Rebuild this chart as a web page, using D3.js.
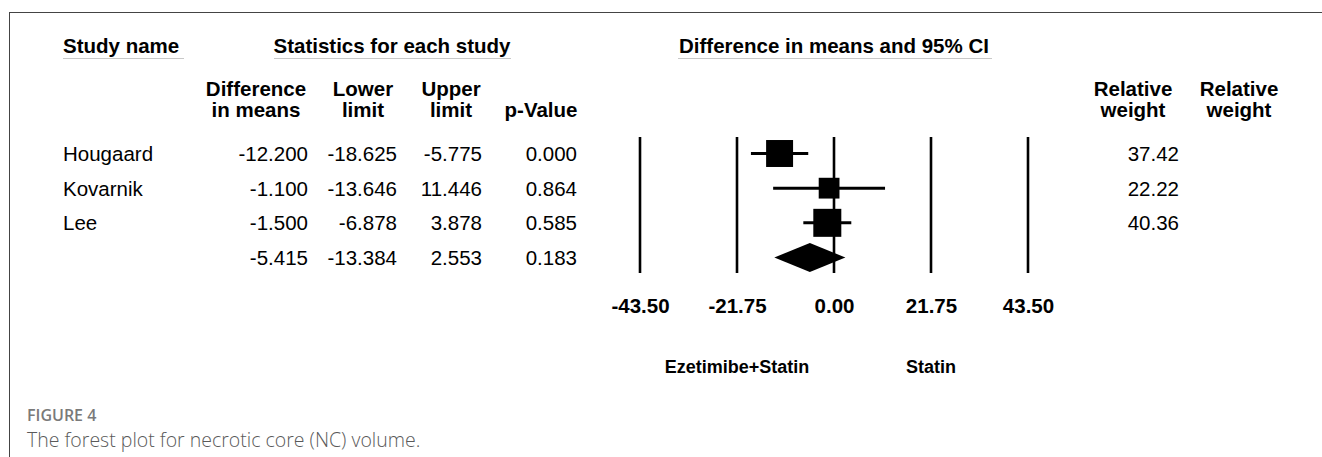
<!DOCTYPE html>
<html>
<head>
<meta charset="utf-8">
<script src="https://cdn.jsdelivr.net/npm/d3@7"></script>
<style>
  body { margin: 0; background: #fff; }
  svg { display: block; }
  .t { font-family: "Liberation Sans", Arial, sans-serif; font-size: 20.5px; fill: #000; }
  .b { font-weight: bold; }
</style>
</head>
<body>
<svg id="chart"></svg>
<script>
// study data
const studies = ["Hougaard", "Kovarnik", "Lee"];
const diffs = [-12.2, -1.1, -1.5];
const lowers = [-18.625, -13.646, -6.878];
const uppers = [-5.775, 11.446, 3.878];
const pvals = [0.000, 0.864, 0.585];
const weights = [37.42, 22.22, 40.36];
// pooled (summary) row
const pooled = { diff: -5.415, lower: -13.384, upper: 2.553, p: 0.183 };
const xTicks = [-43.5, -21.75, 0, 21.75, 43.5];
const groupLabels = ["Ezetimibe+Statin", "Statin"];

const width = 1322, height = 457;
const svg = d3.select("#chart").attr("width", width).attr("height", height);

const loc = d3.formatLocale({ decimal: ".", thousands: ",", grouping: [3], currency: ["", ""], minus: "-" });
const f3 = loc.format(".3f"), f2 = loc.format(".2f");

// x scale of the forest plot
const x = d3.scaleLinear().domain([-43.5, 43.5]).range([640, 1028]);
// rows: 3 studies + pooled
const y = d3.scaleLinear().domain([0, 3]).range([153.5, 257.5]);
const box = d3.scaleSqrt().domain([0, d3.max(weights)]).range([0, 28]);

// frame
svg.append("line").attr("x1", 9).attr("x2", width).attr("y1", 12.5).attr("y2", 12.5)
  .attr("stroke", "#444").attr("stroke-width", 1);
svg.append("line").attr("x1", 9.5).attr("x2", 9.5).attr("y1", 12).attr("y2", height)
  .attr("stroke", "#444").attr("stroke-width", 1);

// top headers with underline
const headers = [
  { text: "Study name", x: 63, anchor: "start", ul: [63, 184] },
  { text: "Statistics for each study", x: 392, anchor: "middle", ul: [274, 511] },
  { text: "Difference in means and 95% CI", x: 834, anchor: "middle", ul: [678, 992] }
];
headers.forEach(h => {
  svg.append("text").attr("class", "t b").attr("x", h.x).attr("y", 53)
    .attr("text-anchor", h.anchor).text(h.text);
  svg.append("line").attr("x1", h.ul[0]).attr("x2", h.ul[1]).attr("y1", 58.5).attr("y2", 58.5)
    .attr("stroke", "#c8c8c8").attr("stroke-width", 1);
});

// column headers
const colHeads = [
  { lines: ["Difference", "in means"], x: 256 },
  { lines: ["Lower", "limit"], x: 363 },
  { lines: ["Upper", "limit"], x: 451 },
  { lines: ["", "p-Value"], x: 541 },
  { lines: ["Relative", "weight"], x: 1133 },
  { lines: ["Relative", "weight"], x: 1239 }
];
colHeads.forEach(c => {
  c.lines.forEach((l, i) => {
    svg.append("text").attr("class", "t b").attr("x", c.x).attr("y", 96 + i * 21)
      .attr("text-anchor", "middle").text(l);
  });
});

// table rows
const rows = studies.map((s, i) => ({ name: s, diff: diffs[i], lower: lowers[i], upper: uppers[i], p: pvals[i], w: weights[i] }));
rows.push({ name: "", diff: pooled.diff, lower: pooled.lower, upper: pooled.upper, p: pooled.p, w: null });

const cols = [
  { key: "diff", x: 308 },
  { key: "lower", x: 397 },
  { key: "upper", x: 482 },
  { key: "p", x: 577 }
];
rows.forEach((r, i) => {
  const yy = y(i) + 7.5;
  svg.append("text").attr("class", "t").attr("x", 63).attr("y", yy).text(r.name);
  cols.forEach(c => {
    svg.append("text").attr("class", "t").attr("x", c.x).attr("y", yy)
      .attr("text-anchor", "end").text(f3(r[c.key]));
  });
  if (r.w != null) {
    svg.append("text").attr("class", "t").attr("x", 1179).attr("y", yy)
      .attr("text-anchor", "end").text(f2(r.w));
  }
});

// reference lines
svg.selectAll(".vline").data(xTicks).enter().append("line")
  .attr("x1", d => x(d)).attr("x2", d => x(d))
  .attr("y1", 137).attr("y2", 273)
  .attr("stroke", "#000").attr("stroke-width", 2.6);

// CI lines
svg.selectAll(".ci").data(rows.slice(0, 3)).enter().append("line")
  .attr("x1", d => x(d.lower)).attr("x2", d => x(d.upper))
  .attr("y1", (d, i) => y(i)).attr("y2", (d, i) => y(i))
  .attr("stroke", "#000").attr("stroke-width", 3);

// weight boxes
svg.selectAll(".box").data(rows.slice(0, 3)).enter().append("rect")
  .attr("x", d => x(d.diff) - box(d.w) / 2)
  .attr("y", (d, i) => y(i) - box(d.w) / 2)
  .attr("width", d => box(d.w)).attr("height", d => box(d.w))
  .attr("fill", "#000");

// pooled diamond
const yp = y(3), hd = 14.5;
svg.append("path")
  .attr("d", `M${x(pooled.lower)},${yp} L${x(pooled.diff)},${yp - hd} L${x(pooled.upper)},${yp} L${x(pooled.diff)},${yp + hd} Z`)
  .attr("fill", "#000");

// tick labels
const axis = svg.append("g").attr("transform", "translate(0,298)")
  .call(d3.axisBottom(x).tickValues(xTicks).tickSize(0).tickPadding(0).tickFormat(f2));
axis.select(".domain").remove();
axis.selectAll("text").attr("class", "t b");
axis.attr("font-size", null).attr("font-family", null);

// favours labels
svg.selectAll(".grp").data(groupLabels).enter().append("text")
  .attr("class", "t b").style("font-size", "18px")
  .attr("x", (d, i) => x(i === 0 ? -21.75 : 21.75)).attr("y", 373)
  .attr("text-anchor", "middle").text(d => d);

// caption
svg.append("text").attr("x", 27).attr("y", 421)
  .style("font-family", "'Open Sans', sans-serif").style("font-size", "16px").style("font-weight", 600)
  .attr("fill", "#7a7a7a").text("FIGURE 4");
svg.append("text").attr("x", 27).attr("y", 447)
  .style("font-family", "'Open Sans', sans-serif").style("font-size", "19.5px").style("font-weight", 300)
  .attr("fill", "#5a5a5a").text("The forest plot for necrotic core (NC) volume.");
</script>
</body>
</html>
